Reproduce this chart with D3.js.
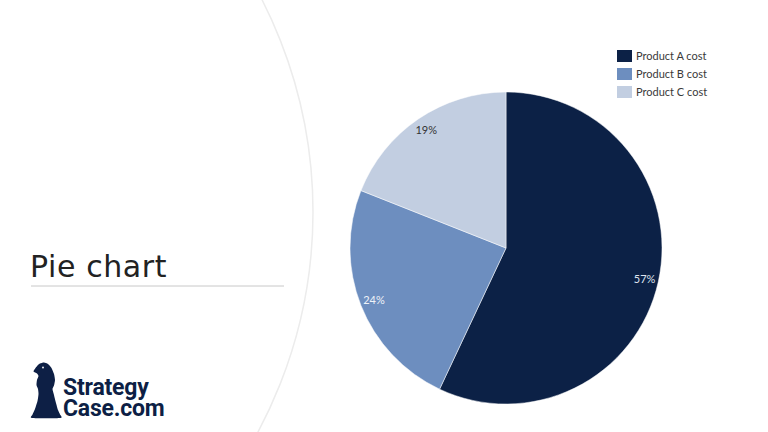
<!DOCTYPE html>
<html>
<head>
<meta charset="utf-8">
<script src="https://cdn.jsdelivr.net/npm/d3@7"></script>
<style>
  html, body { margin: 0; padding: 0; background: #fff; }
  svg { display: block; }
</style>
</head>
<body>
<script>
// pie chart slide

var categories = ["Product A cost", "Product B cost", "Product C cost"];
var values = [57, 24, 19];
var colors = ["#0c2146", "#6d8ebf", "#c2cee1"];
var labelColors = ["#dfe4ee", "#eef2f8", "#333333"];

var W = 768, H = 432;
var svg = d3.select("body").append("svg").attr("width", W).attr("height", H);

// big pale arc on the left side
svg.append("circle")
  .attr("cx", -154).attr("cy", 212).attr("r", 467)
  .style("fill", "none")
  .style("stroke", "#ececec")
  .style("stroke-width", "1.5px");

// title + rule
svg.append("text")
  .attr("x", 30).attr("y", 277)
  .style("font-family", "DejaVu Sans, Verdana, sans-serif")
  .style("font-size", "30px")
  .style("letter-spacing", "0.6px")
  .style("fill", "#222")
  .text("Pie chart");

svg.append("line")
  .attr("x1", 31).attr("x2", 284).attr("y1", 286).attr("y2", 286)
  .style("stroke", "#c8c8c8").style("stroke-width", "1px");

// pie
var cx = 506, cy = 248, radius = 156;
var pie = d3.pie().sort(null).value(function(d){ return d; });
var arcs = pie(values);
var arc = d3.arc().innerRadius(0).outerRadius(radius);
var labelArc = d3.arc().innerRadius(radius * 0.91).outerRadius(radius * 0.91);

var pieG = svg.append("g").attr("transform", "translate(" + cx + "," + cy + ")");
pieG.selectAll("path")
  .data(arcs)
  .enter()
  .append("path")
  .attr("d", arc)
  .style("fill", function(d, i){ return colors[i]; })
  .style("stroke", "#fff")
  .style("stroke-width", "0.5px");

pieG.selectAll("text")
  .data(arcs)
  .enter()
  .append("text")
  .attr("transform", function(d){ return "translate(" + labelArc.centroid(d) + ")"; })
  .attr("text-anchor", "middle")
  .attr("dy", "0.35em")
  .style("font-family", "Lato, sans-serif")
  .style("font-size", "11px")
  .style("fill", function(d, i){ return labelColors[i]; })
  .text(function(d){ return d.data + "%"; });

// legend
var legend = svg.append("g").attr("transform", "translate(617, 50)");
var items = legend.selectAll("g")
  .data(categories)
  .enter()
  .append("g")
  .attr("transform", function(d, i){ return "translate(0," + (i * 18) + ")"; });
items.append("rect")
  .attr("width", 15).attr("height", 12)
  .style("fill", function(d, i){ return colors[i]; });
items.append("text")
  .attr("x", 19).attr("y", 10)
  .style("font-family", "Lato, sans-serif")
  .style("font-size", "11px")
  .style("fill", "#3a3a3a")
  .text(function(d){ return d; });

// logo: chess knight (eagle head) + wordmark
var navy = "#0d1f45";
var knight = [[40,363.5],[44,362.5],[48,364],[51.5,368],[54,374],[55,380],[54,385.5],[52.5,389],[54,395],[56,403],[58,410],[60,414.5],[60.5,418],
  [32,418],[32.5,414.5],[35,409],[37.5,401],[38.5,394],[38,389],[36.5,385],[37,380],[38.5,376],[37,373.5],[33.5,371.5],[35.5,368],[38,365]];
svg.append("path")
  .attr("d", d3.line().curve(d3.curveCardinalClosed.tension(0.4))(knight))
  .style("fill", navy);
svg.append("circle").attr("cx", 43).attr("cy", 367.5).attr("r", 0.9).style("fill", "#fff");

var wordmark = ["Strategy", "Case.com"];
var logoText = svg.append("text")
  .attr("x", 63).attr("y", 395)
  .style("font-family", "Roboto, sans-serif")
  .style("font-weight", "bold")
  .style("font-size", "23px")
  .style("letter-spacing", "-0.2px")
  .style("fill", navy);
logoText.selectAll("tspan")
  .data(wordmark)
  .enter()
  .append("tspan")
  .attr("x", 63)
  .attr("dy", function(d, i){ return i === 0 ? 0 : 21; })
  .text(function(d){ return d; });
</script>
</body>
</html>
